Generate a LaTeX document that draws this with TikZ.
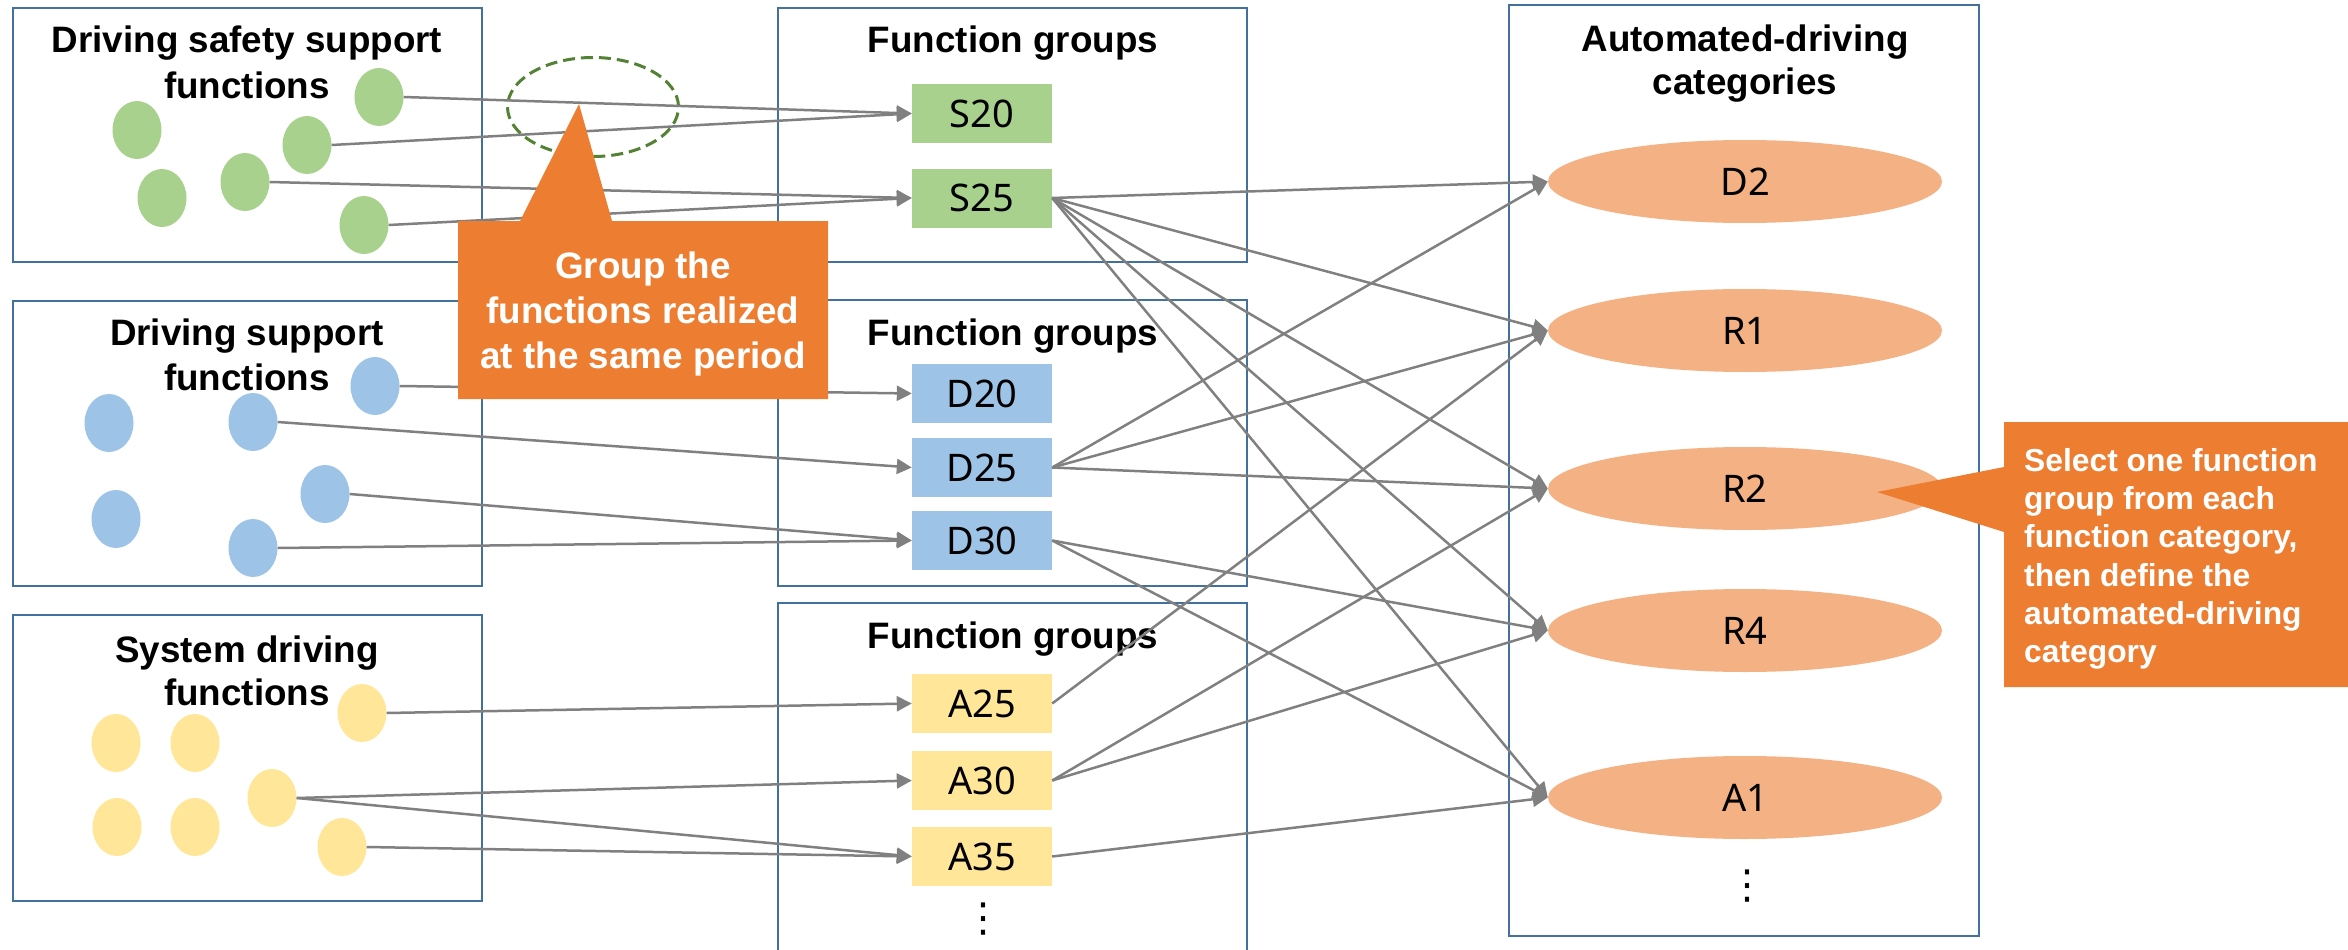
\documentclass[tikz,border=0pt]{standalone}
\usepackage{fontspec}
\setmainfont{Liberation Sans}
\newfontfamily\labelfont{Noto Sans}
\newfontfamily\symfont{DejaVu Sans}
\usetikzlibrary{shapes.geometric,arrows.meta}
\definecolor{boxblue}{HTML}{41719C}
\definecolor{sgreen}{HTML}{A9D18E}
\definecolor{dblue}{HTML}{9DC3E6}
\definecolor{ayellow}{HTML}{FFE699}
\definecolor{catorange}{HTML}{F4B183}
\definecolor{callorange}{HTML}{ED7D31}
\definecolor{dashgreen}{HTML}{548235}
\definecolor{linegray}{HTML}{808080}
\begin{document}
\begin{tikzpicture}[x=1pt,y=-1pt,
  frame/.style={draw=boxblue,line width=2.5pt},
  title/.style={anchor=base,inner sep=0pt,font=\bfseries\fontsize{36.8}{44}\selectfont},
  calltext/.style={anchor=base,inner sep=0pt,text=white,font=\bfseries\fontsize{36.8}{44}\selectfont},
  calltextb/.style={anchor=base west,inner sep=0pt,text=white,font=\bfseries\fontsize{31.8}{38}\selectfont},
  fn/.style={ellipse,minimum width=49pt,minimum height=58pt,inner sep=0pt},
  grp/.style={rectangle,minimum width=140pt,minimum height=59pt,inner sep=0pt,font=\labelfont\fontsize{38}{44}\selectfont},
  cat/.style={ellipse,fill=catorange,minimum width=394pt,minimum height=83pt,inner sep=0pt,font=\labelfont\fontsize{38}{44}\selectfont},
  link/.style={draw=linegray,line width=2.5pt,-{Triangle[length=15pt,width=15pt]}},
  dotsnode/.style={inner sep=0pt,font=\symfont\fontsize{40}{40}\selectfont},
  callout/.style={fill=callorange}
]
\useasboundingbox (0,0) rectangle (2348,950);

% frames
\draw[frame] (13,8) rectangle (482,262);
\draw[frame] (13,301) rectangle (482,586);
\draw[frame] (13,615) rectangle (482,901);
\draw[frame] (778,8) rectangle (1247,262);
\draw[frame] (778,300) rectangle (1247,586);
\draw[frame] (778,960) -- (778,603) -- (1247,603) -- (1247,960);
\draw[frame] (1509,5) rectangle (1979,936);

% titles
\node[title] (t1a) at (247,53) {Driving safety support};
\node[title] (t1b) at (247,98) {functions};
\node[title] (t2a) at (247,345) {Driving support};
\node[title] (t2b) at (247,390) {functions};
\node[title] (t3a) at (247,662) {System driving};
\node[title] (t3b) at (247,705) {functions};
\node[title] (m1) at (1013,53) {Function groups};
\node[title] (m2) at (1013,345) {Function groups};
\node[title] (m3) at (1013,648) {Function groups};
\node[title] (ra) at (1745,52) {Automated-driving};
\node[title] (rb) at (1745,95) {categories};

% green function ellipses
\node[fn,fill=sgreen] (g1) at (379,97) {};
\node[fn,fill=sgreen] (g2) at (137,130) {};
\node[fn,fill=sgreen] (g3) at (307,145) {};
\node[fn,fill=sgreen] (g4) at (245,182) {};
\node[fn,fill=sgreen] (g5) at (162,198) {};
\node[fn,fill=sgreen] (g6) at (364,225) {};
% blue
\node[fn,fill=dblue] (b1) at (375,386) {};
\node[fn,fill=dblue] (b2) at (109,423) {};
\node[fn,fill=dblue] (b3) at (253,422) {};
\node[fn,fill=dblue] (b4) at (325,494) {};
\node[fn,fill=dblue] (b5) at (116,519) {};
\node[fn,fill=dblue] (b6) at (253,548) {};
% yellow
\node[fn,fill=ayellow] (y1) at (362,713) {};
\node[fn,fill=ayellow] (y2) at (116,743) {};
\node[fn,fill=ayellow] (y3) at (195,743) {};
\node[fn,fill=ayellow] (y4) at (272,798) {};
\node[fn,fill=ayellow] (y5) at (117,827) {};
\node[fn,fill=ayellow] (y6) at (195,827) {};
\node[fn,fill=ayellow] (y7) at (342,847) {};

% function groups
\node[grp,fill=sgreen] (S20) at (982,113.5) {S20};
\node[grp,fill=sgreen] (S25) at (982,198) {S25};
\node[grp,fill=dblue] (D20) at (982,393.5) {D20};
\node[grp,fill=dblue] (D25) at (982,467.5) {D25};
\node[grp,fill=dblue] (D30) at (982,540.5) {D30};
\node[grp,fill=ayellow] (A25) at (982,703.5) {A25};
\node[grp,fill=ayellow] (A30) at (982,780.5) {A30};
\node[grp,fill=ayellow] (A35) at (982,856.5) {A35};
\node[dotsnode] (mdots) at (983,919) {⋮};

% categories
\node[cat] (D2) at (1745,181.5) {D2};
\node[cat] (R1) at (1745,330.5) {R1};
\node[cat] (R2) at (1745,488.5) {R2};
\node[cat] (R4) at (1745,630.5) {R4};
\node[cat] (A1) at (1745,797.5) {A1};
\node[dotsnode] (rdots) at (1747,886) {⋮};

% dashed grouping ellipse
\node[ellipse,draw=dashgreen,line width=3pt,dash pattern=on 12pt off 6pt,minimum width=171pt,minimum height=99pt,inner sep=0pt] (grpmark) at (593,107) {};

% links: functions -> groups
\draw[link] (g1.east) -- (S20.west);
\draw[link] (g3.east) -- (S20.west);
\draw[link] (g4.east) -- (S25.west);
\draw[link] (g6.east) -- (S25.west);
\draw[link] (b1.east) -- (D20.west);
\draw[link] (b3.east) -- (D25.west);
\draw[link] (b4.east) -- (D30.west);
\draw[link] (b6.east) -- (D30.west);
\draw[link] (y1.east) -- (A25.west);
\draw[link] (y4.east) -- (A30.west);
\draw[link] (y4.east) -- (A35.west);
\draw[link] (y7.east) -- (A35.west);

% links: groups -> categories
\draw[link] (S25.east) -- (D2.west);
\draw[link] (S25.east) -- (R1.west);
\draw[link] (S25.east) -- (R2.west);
\draw[link] (S25.east) -- (R4.west);
\draw[link] (S25.east) -- (A1.west);
\draw[link] (D25.east) -- (D2.west);
\draw[link] (D25.east) -- (R1.west);
\draw[link] (D25.east) -- (R2.west);
\draw[link] (D30.east) -- (R4.west);
\draw[link] (D30.east) -- (A1.west);
\draw[link] (A25.east) -- (R1.west);
\draw[link] (A30.east) -- (R2.west);
\draw[link] (A30.east) -- (R4.west);
\draw[link] (A35.east) -- (A1.west);

% callout 1
\fill[callout] (458,221) -- (520,221) -- (579,104) -- (612,221) -- (828,221) -- (828,399) -- (458,399) -- cycle;
\node[calltext] (c1a) at (643,278.5) {Group the};
\node[calltext] (c1b) at (643,323) {functions realized};
\node[calltext] (c1c) at (643,368) {at the same period};

% callout 2
\fill[callout] (2004,422) -- (2348,422) -- (2348,687) -- (2004,687) -- (2004,532) -- (1877,492) -- (2004,467) -- cycle;
\node[calltextb] (c2a) at (2024,471) {Select one function};
\node[calltextb] (c2b) at (2024,509) {group from each};
\node[calltextb] (c2c) at (2024,547) {function category,};
\node[calltextb] (c2d) at (2024,586) {then define the};
\node[calltextb] (c2e) at (2024,624) {automated-driving};
\node[calltextb] (c2f) at (2024,662) {category};
\end{tikzpicture}
\end{document}
